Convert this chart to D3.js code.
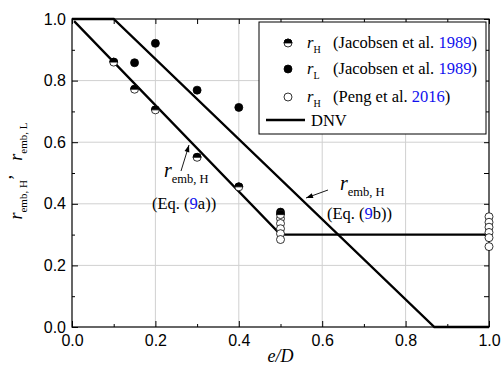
<!DOCTYPE html>
<html>
<head>
<meta charset="utf-8">
<script src="https://cdn.jsdelivr.net/npm/d3@7"></script>
<style>
  body { margin: 0; background: #fff; }
  svg { display: block; }
</style>
</head>
<body>
<div class="chart"></div>
<script>
// Jacobsen et al. 1989, r_H (half filled)
const jacH_x = [0.1, 0.15, 0.2, 0.3, 0.4, 0.5];
const jacH_y = [0.86, 0.772, 0.705, 0.551, 0.455, 0.365];
// Jacobsen et al. 1989, r_L (filled)
const jacL_x = [0.15, 0.2, 0.3, 0.4, 0.5];
const jacL_y = [0.858, 0.921, 0.769, 0.713, 0.373];
// Peng et al. 2016, r_H (open)
const peng_x = [0.5, 0.5, 0.5, 0.5, 0.5, 1.0, 1.0, 1.0, 1.0, 1.0, 1.0];
const peng_y = [0.352, 0.336, 0.319, 0.303, 0.284, 0.358, 0.340, 0.324, 0.307, 0.290, 0.261];
// Eq. (9a) and Eq. (9b) / DNV
const eq9a_x = [0.005, 0.5, 1.0];
const eq9a_y = [0.993, 0.3, 0.3];
const eq9b_x = [0.0, 0.1, 0.869, 1.0];
const eq9b_y = [1.0, 1.0, 0.0, 0.0];

const xTicks = [0, 0.2, 0.4, 0.6, 0.8, 1.0];
const yTicks = [0, 0.2, 0.4, 0.6, 0.8, 1.0];
const minorTicks = [0.1, 0.3, 0.5, 0.7, 0.9];

const width = 503;
const height = 370;
const pLeft = 72, pRight = 489, pTop = 19, pBottom = 327;

const svg = d3.select(".chart").append("svg")
  .attr("width", width)
  .attr("height", height);

const x = d3.scaleLinear().domain([0, 1]).range([pLeft, pRight]);
const y = d3.scaleLinear().domain([0, 1]).range([pBottom, pTop]);

// grid
svg.append("g").selectAll("line")
  .data(xTicks.slice(1, -1))
  .enter().append("line")
  .attr("x1", d => x(d)).attr("x2", d => x(d))
  .attr("y1", pTop).attr("y2", pBottom)
  .attr("stroke", "#d0d0d0").attr("stroke-width", 1);
svg.append("g").selectAll("line")
  .data(yTicks.slice(1, -1))
  .enter().append("line")
  .attr("x1", pLeft).attr("x2", pRight)
  .attr("y1", d => y(d)).attr("y2", d => y(d))
  .attr("stroke", "#d0d0d0").attr("stroke-width", 1);

function styleAxis(g) {
  g.select(".domain").remove();
  g.selectAll("line").attr("stroke", "#000");
  g.selectAll("text")
    .style("font-family", "'Liberation Sans', Arial, sans-serif")
    .style("font-size", "16px")
    .attr("fill", "#000");
}

const fmt = d3.format(".1f");

svg.append("g")
  .attr("transform", "translate(0," + pBottom + ")")
  .call(d3.axisBottom(x).tickValues(xTicks).tickFormat(fmt).tickSize(-6).tickPadding(8))
  .call(styleAxis);
svg.append("g")
  .attr("transform", "translate(0," + pBottom + ")")
  .call(d3.axisBottom(x).tickValues(minorTicks).tickFormat("").tickSize(-3))
  .call(styleAxis);
svg.append("g")
  .attr("transform", "translate(0," + pTop + ")")
  .call(d3.axisTop(x).tickValues(xTicks.concat(minorTicks)).tickFormat("").tickSize(-5))
  .call(styleAxis);

svg.append("g")
  .attr("transform", "translate(" + pLeft + ",0)")
  .call(d3.axisLeft(y).tickValues(yTicks).tickFormat(fmt).tickSize(-6).tickPadding(6))
  .call(styleAxis);
svg.append("g")
  .attr("transform", "translate(" + pLeft + ",0)")
  .call(d3.axisLeft(y).tickValues(minorTicks).tickFormat("").tickSize(-3))
  .call(styleAxis);
svg.append("g")
  .attr("transform", "translate(" + pRight + ",0)")
  .call(d3.axisRight(y).tickValues(yTicks.concat(minorTicks)).tickFormat("").tickSize(-5))
  .call(styleAxis);

// frame
svg.append("rect")
  .attr("x", pLeft).attr("y", pTop)
  .attr("width", pRight - pLeft).attr("height", pBottom - pTop)
  .attr("fill", "none").attr("stroke", "#000").attr("stroke-width", 1.2);

// lines
const line = d3.line().x(d => x(d[0])).y(d => y(d[1]));
[[eq9a_x, eq9a_y], [eq9b_x, eq9b_y]].forEach(s => {
  svg.append("path")
    .datum(s[0].map((v, i) => [v, s[1][i]]))
    .attr("d", line)
    .attr("fill", "none")
    .attr("stroke", "#000")
    .attr("stroke-width", 2.3);
});

const r = 4;
function halfMarker(g, cx, cy) {
  g.append("circle").attr("cx", cx).attr("cy", cy).attr("r", r)
    .attr("fill", "#fff").attr("stroke", "#000").attr("stroke-width", 0.8);
  g.append("path")
    .attr("d", "M" + (cx - r) + "," + cy + " A" + r + "," + r + " 0 0 1 " + (cx + r) + "," + cy + " Z")
    .attr("fill", "#000").attr("stroke", "#000").attr("stroke-width", 0.8);
}
function fullMarker(g, cx, cy) {
  g.append("circle").attr("cx", cx).attr("cy", cy).attr("r", r)
    .attr("fill", "#000").attr("stroke", "#000").attr("stroke-width", 0.8);
}
function openMarker(g, cx, cy) {
  g.append("circle").attr("cx", cx).attr("cy", cy).attr("r", r)
    .attr("fill", "#fff").attr("stroke", "#000").attr("stroke-width", 0.8);
}

const pts = svg.append("g");
peng_x.forEach((v, i) => openMarker(pts, x(v), y(peng_y[i])));
jacL_x.forEach((v, i) => fullMarker(pts, x(v), y(jacL_y[i])));
jacH_x.forEach((v, i) => halfMarker(pts, x(v), y(jacH_y[i])));

// legend
const serif = "'Liberation Serif', 'Times New Roman', serif";
const lg = svg.append("g");
lg.append("rect")
  .attr("x", 259).attr("y", 22).attr("width", 227).attr("height", 112)
  .attr("fill", "#fff").attr("stroke", "#000").attr("stroke-width", 1);

const legendRows = [
  { mark: halfMarker, sub: "H", txt: "(Jacobsen et al. ", yr: "1989", y: 43 },
  { mark: fullMarker, sub: "L", txt: "(Jacobsen et al. ", yr: "1989", y: 69 },
  { mark: openMarker, sub: "H", txt: "(Peng et al. ", yr: "2016", y: 97 }
];
legendRows.forEach(row => {
  row.mark(lg, 288, row.y);
  const t = lg.append("text")
    .attr("x", 307).attr("y", row.y + 5)
    .style("font-family", serif).style("font-size", "16.5px");
  t.append("tspan").style("font-style", "italic").text("r");
  t.append("tspan").attr("dy", 5).style("font-size", "10px").text(row.sub);
  t.append("tspan").attr("x", 333).attr("dy", -5).text(row.txt);
  t.append("tspan").attr("fill", "#1010ee").text(row.yr);
  t.append("tspan").text(")");
});
lg.append("line")
  .attr("x1", 266).attr("x2", 305).attr("y1", 120).attr("y2", 120)
  .attr("stroke", "#000").attr("stroke-width", 2.3);
lg.append("text").attr("x", 311).attr("y", 126)
  .style("font-family", serif).style("font-size", "16.5px").text("DNV");

// annotations
function annot(tx, ty, ex, ey, ax1, ay1, ax2, ay2, eqNum, eqLetter) {
  const g = svg.append("g");
  const t = g.append("text").attr("x", tx).attr("y", ty)
    .style("font-family", serif).style("font-size", "20px");
  t.append("tspan").style("font-style", "italic").text("r");
  t.append("tspan").attr("dy", 6).style("font-size", "12.5px").text("emb, H");
  const e = g.append("text").attr("x", ex).attr("y", ey)
    .style("font-family", serif).style("font-size", "16.5px");
  e.append("tspan").text("(Eq. (");
  e.append("tspan").attr("fill", "#1010ee").text(eqNum);
  e.append("tspan").text(eqLetter + "))");
  g.append("line").attr("x1", ax1).attr("y1", ay1).attr("x2", ax2).attr("y2", ay2)
    .attr("stroke", "#000").attr("stroke-width", 0.9);
  const ang = Math.atan2(ay2 - ay1, ax2 - ax1);
  const L = 7, W = 2.5;
  const bx = ax2 - L * Math.cos(ang), by = ay2 - L * Math.sin(ang);
  g.append("path")
    .attr("d", "M" + ax2 + "," + ay2 +
      " L" + (bx + W * Math.sin(ang)) + "," + (by - W * Math.cos(ang)) +
      " L" + (bx - W * Math.sin(ang)) + "," + (by + W * Math.cos(ang)) + " Z")
    .attr("fill", "#000");
}
annot(164, 177, 152, 209, 181, 171, 189, 145, "9", "a");
annot(340, 190, 327, 219, 328, 190, 306, 198, "9", "b");

// axis titles
svg.append("text")
  .attr("x", (pLeft + pRight) / 2).attr("y", 362)
  .attr("text-anchor", "middle")
  .style("font-family", serif).style("font-size", "18px").style("font-style", "italic")
  .text("e/D");

const yl = svg.append("text")
  .attr("transform", "translate(22,171) rotate(-90)")
  .attr("text-anchor", "middle")
  .style("font-family", serif).style("font-size", "18px");
yl.append("tspan").style("font-style", "italic").text("r");
yl.append("tspan").attr("dy", 5).style("font-size", "11px").text("emb, H");
yl.append("tspan").attr("dy", -5).text("’\u00a0\u00a0\u00a0");
yl.append("tspan").style("font-style", "italic").text("r");
yl.append("tspan").attr("dy", 5).style("font-size", "11px").text("emb, L");
</script>
</body>
</html>
